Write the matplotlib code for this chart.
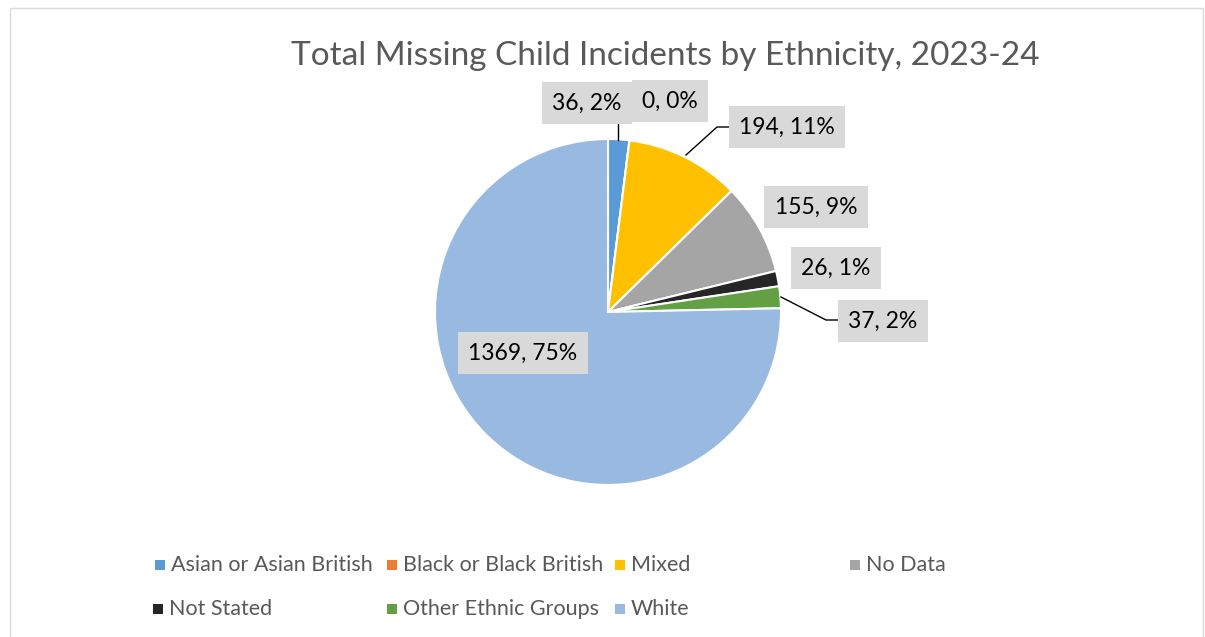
import matplotlib
matplotlib.use("Agg")
import matplotlib.pyplot as plt
from matplotlib.patches import Rectangle

plt.rcParams['font.family'] = ['Lato', 'DejaVu Sans']

# data
groups = ["Asian or Asian British", "Black or Black British", "Mixed", "No Data",
          "Not Stated", "Other Ethnic Groups", "White"]
counts = [36, 0, 194, 155, 26, 37, 1369]
colors = ["#5B9BD5", "#ED7D31", "#FFC000", "#A5A5A5", "#262626", "#63A043", "#98B9E0"]
title = "Total Missing Child Incidents by Ethnicity, 2023-24"

W, H = 1205, 637
fig = plt.figure(figsize=(W / 100, H / 100), dpi=100)
ax = fig.add_axes([0, 0, 1, 1])

# pixel layout (y measured from top)
cx, cy, r = 608, 312, 173
ax.pie(counts, colors=colors, center=(cx, cy), radius=r, startangle=-90,
       counterclock=True, wedgeprops=dict(edgecolor="white", linewidth=1.5))
ax.set_xlim(0, W)
ax.set_ylim(H, 0)
ax.set_aspect("equal")
ax.axis("off")

# chart frame
ax.add_patch(Rectangle((10, 8), 1193, 640, fill=False, edgecolor="#D9D9D9", lw=1, clip_on=False))

ax.text(665, 56, title, ha="center", va="center", fontsize=24, color="#595959")

# data labels: centre of box per slice
total = sum(counts)
label_pos = [(587, 103), (670, 101), (787, 127), (816, 207), (836, 268), (883, 321), (523, 353)]
for n, (x, y) in zip(counts, label_pos):
    ax.text(x, y, f"{n}, {round(100 * n / total)}%", ha="center", va="center",
            fontsize=16.5, color="black",
            bbox=dict(boxstyle="square,pad=0.45", facecolor="#D9D9D9", edgecolor="none"))

# leader lines
leaders = [([618, 618], [124, 140]),
           ([729, 717, 686], [127, 127, 155]),
           ([838, 826, 781], [320, 320, 297])]
for xs, ys in leaders:
    ax.plot(xs, ys, color="black", lw=1)

# legend
leg_pos = [(160, 565), (392, 565), (620, 565), (855, 565),
           (158, 609), (392, 609), (620, 609)]
for name, c, (x, y) in zip(groups, colors, leg_pos):
    ax.add_patch(Rectangle((x - 5, y - 5), 10, 10, facecolor=c, edgecolor="none"))
    ax.text(x + 11, y, name, ha="left", va="center", fontsize=15.5, color="#595959")

fig.savefig("out.png", dpi=100)
